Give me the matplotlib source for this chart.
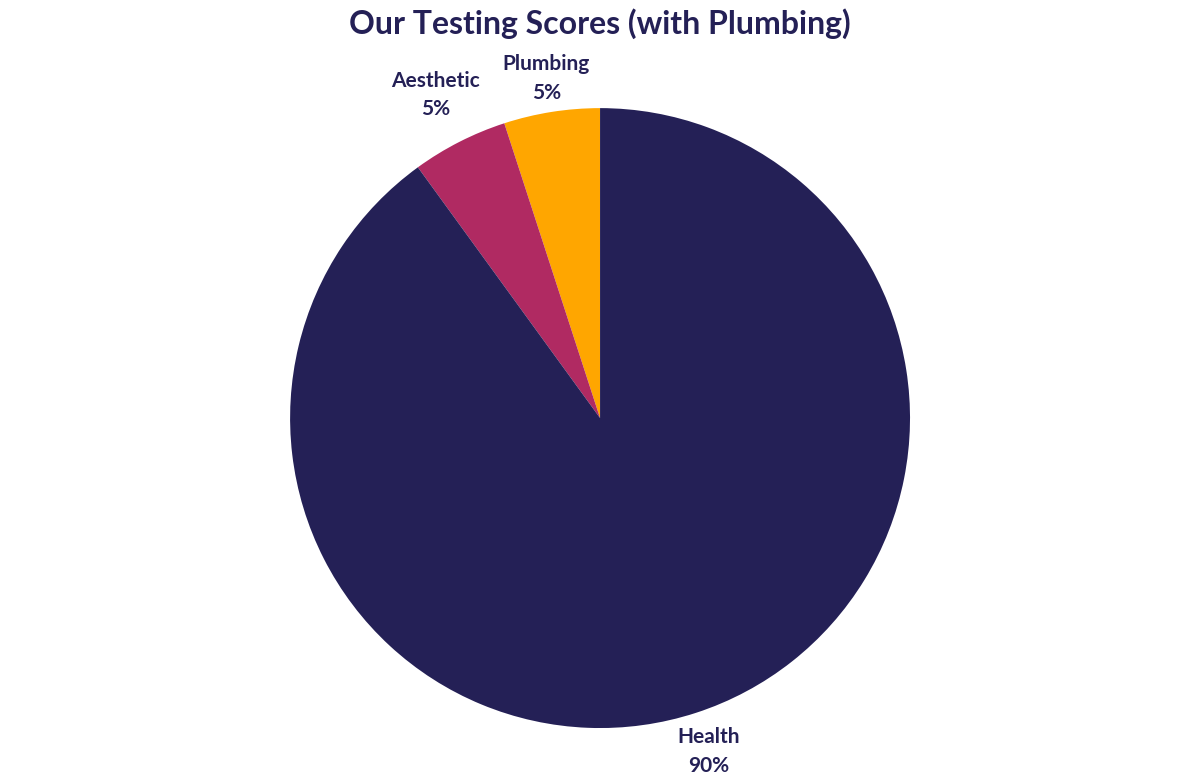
import matplotlib
matplotlib.use("Agg")
import matplotlib.pyplot as plt
import numpy as np

plt.rcParams['font.family'] = ['Lato', 'DejaVu Sans']

labels = ['Plumbing', 'Aesthetic', 'Health']
scores = [5, 5, 90]
colors = ['#ffa600', '#b02a62', '#242056']
text_color = '#242056'
label_dist = [1.11, 1.17, 1.13]

fig = plt.figure(figsize=(12, 7.8), dpi=100)
ax = fig.add_axes([0.1642, 0.007, 0.6717, 0.914])

wedges, texts = ax.pie(scores, colors=colors, startangle=90, counterclock=True,
                       labels=[f'{l}\n{v}%' for l, v in zip(labels, scores)],
                       labeldistance=1.14, radius=1.0,
                       wedgeprops=dict(linewidth=0),
                       textprops=dict(color=text_color, fontsize=15,
                                      fontweight='bold', linespacing=1.55))
# nudge each label out along its wedge's middle angle
for w, t, d in zip(wedges, texts, label_dist):
    mid = np.deg2rad((w.theta1 + w.theta2) / 2)
    t.set_position((d * np.cos(mid), d * np.sin(mid)))
    t.set_horizontalalignment('center')
    t.set_verticalalignment('center')

# pie resets the limits, so set them afterwards
ax.set_xlim(-1.3, 1.3)
ax.set_ylim(-1.15, 1.15)
ax.set_aspect('equal')
ax.axis('off')

fig.suptitle('Our Testing Scores (with Plumbing)', x=0.5, y=0.99, va='top',
             fontsize=23, fontweight='bold', color=text_color)

fig.savefig('out.png', dpi=100)
